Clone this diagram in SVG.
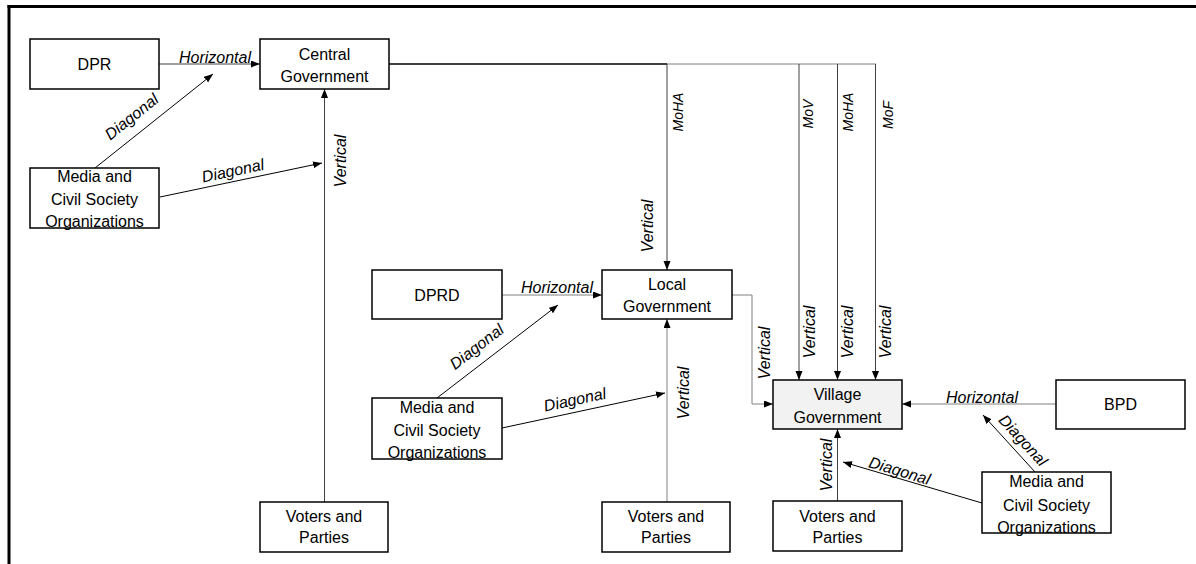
<svg xmlns="http://www.w3.org/2000/svg" width="1196" height="564" viewBox="0 0 1196 564">
<style>
.box{fill:#fff;stroke:#000;stroke-width:1.5}
.vil{fill:#f2f2f2;stroke:#000;stroke-width:1.5}
.t{font-family:"Liberation Sans",Arial,sans-serif;font-size:16px;text-anchor:middle;fill:#000}
.lb{font-family:"Liberation Sans",Arial,sans-serif;font-size:16px;font-style:italic;text-anchor:middle;fill:#000}
.mo{font-family:"Liberation Sans",Arial,sans-serif;font-size:14px;font-style:italic;text-anchor:middle;fill:#000}
.c{fill:none;stroke:#404040;stroke-width:1}
.g{fill:none;stroke:#808080;stroke-width:1}
.d{fill:none;stroke:#000;stroke-width:1}
.a{marker-end:url(#ah)}
</style>
<defs>
<marker id="ah" markerUnits="userSpaceOnUse" markerWidth="10" markerHeight="8" refX="9" refY="3.5" orient="auto">
<path d="M0,0 L9,3.5 L0,7 z" fill="#000"/>
</marker>
</defs>
<rect width="1196" height="564" fill="#fff"/>
<g id="frame">
<line x1="7.5" y1="6.5" x2="1196" y2="6.5" stroke="#000" stroke-width="3"/>
<line x1="9" y1="5" x2="9" y2="564" stroke="#000" stroke-width="3"/>
</g>
<g id="connectors">
<path class="c a" d="M159,64 H260"/>
<path class="d a" d="M95,168 L213,74"/>
<path class="d a" d="M160,197 L322,163"/>
<path class="c a" d="M324.5,502 V89"/>
<path d="M389,64 H667" fill="none" stroke="#000" stroke-width="1.5"/>
<path class="g" d="M667,64 H876"/>
<path class="c a" d="M667,64 V270"/>
<path class="c a" d="M799,64 V380"/>
<path class="c a" d="M837.5,64 V380"/>
<path class="c a" d="M875.5,64 V380"/>
<path class="g a" d="M502,295 H602"/>
<path class="d a" d="M437,398 L558,305"/>
<path class="d a" d="M502,428 L665,393"/>
<path class="g a" d="M667,502 V319"/>
<path class="g a" d="M732,295 H752 V404 H773"/>
<path class="g a" d="M1056,404 H902"/>
<path class="d a" d="M1035,472 L983,415"/>
<path class="d a" d="M982,503 L843,462"/>
<path class="c a" d="M837.5,501 V429"/>
<text class="lb" x="215" y="63">Horizontal</text>
<text class="lb" transform="translate(135,121) rotate(-38.5)">Diagonal</text>
<text class="lb" transform="translate(234,176) rotate(-11.9)">Diagonal</text>
<text class="lb" transform="translate(346,161) rotate(-90)">Vertical</text>
<text class="mo" transform="translate(683,112) rotate(-90)">MoHA</text>
<text class="mo" transform="translate(813,114) rotate(-90)">MoV</text>
<text class="mo" transform="translate(853,112) rotate(-90)">MoHA</text>
<text class="mo" transform="translate(893,115) rotate(-90)">MoF</text>
<text class="lb" transform="translate(653,226) rotate(-90)">Vertical</text>
<text class="lb" x="557" y="293">Horizontal</text>
<text class="lb" transform="translate(480,351) rotate(-37.5)">Diagonal</text>
<text class="lb" transform="translate(576,405) rotate(-12.1)">Diagonal</text>
<text class="lb" transform="translate(689,393) rotate(-90)">Vertical</text>
<text class="lb" transform="translate(770,353) rotate(-90)">Vertical</text>
<text class="lb" transform="translate(815,332) rotate(-90)">Vertical</text>
<text class="lb" transform="translate(853,332) rotate(-90)">Vertical</text>
<text class="lb" transform="translate(891,332) rotate(-90)">Vertical</text>
<text class="lb" x="982" y="403">Horizontal</text>
<text class="lb" transform="translate(1019,444) rotate(47.6)">Diagonal</text>
<text class="lb" transform="translate(898,476) rotate(16.4)">Diagonal</text>
<text class="lb" transform="translate(832,465) rotate(-90)">Vertical</text>
</g>
<g id="dpr">
<rect class="box" x="30" y="39" width="129" height="50"/>
<text class="t" x="94.5" y="70">DPR</text>
</g>
<g id="central">
<rect class="box" x="260" y="39" width="129" height="50"/>
<text class="t" x="324.5" y="60">Central</text>
<text class="t" x="324.5" y="82">Government</text>
</g>
<g id="media1">
<rect class="box" x="30" y="168" width="129" height="60"/>
<text class="t" x="94.5" y="182">Media and</text>
<text class="t" x="94.5" y="205">Civil Society</text>
<text class="t" x="94.5" y="227">Organizations</text>
</g>
<g id="voters1">
<rect class="box" x="260" y="502" width="128" height="50"/>
<text class="t" x="324" y="522">Voters and</text>
<text class="t" x="324" y="543">Parties</text>
</g>
<g id="dprd">
<rect class="box" x="372" y="270" width="130" height="49"/>
<text class="t" x="437" y="301">DPRD</text>
</g>
<g id="local">
<rect class="box" x="602" y="270" width="130" height="49"/>
<text class="t" x="667" y="290">Local</text>
<text class="t" x="667" y="312">Government</text>
</g>
<g id="media2">
<rect class="box" x="372" y="398" width="130" height="61"/>
<text class="t" x="437" y="413">Media and</text>
<text class="t" x="437" y="436">Civil Society</text>
<text class="t" x="437" y="458">Organizations</text>
</g>
<g id="voters2">
<rect class="box" x="602" y="502" width="128" height="50"/>
<text class="t" x="666" y="522">Voters and</text>
<text class="t" x="666" y="543">Parties</text>
</g>
<g id="village">
<rect class="vil" x="773" y="380" width="129" height="49"/>
<text class="t" x="837.5" y="400">Village</text>
<text class="t" x="837.5" y="423">Government</text>
</g>
<g id="bpd">
<rect class="box" x="1056" y="380" width="129" height="49"/>
<text class="t" x="1120.5" y="410">BPD</text>
</g>
<g id="voters3">
<rect class="box" x="773" y="501" width="129" height="50"/>
<text class="t" x="837.5" y="522">Voters and</text>
<text class="t" x="837.5" y="543">Parties</text>
</g>
<g id="media3">
<rect class="box" x="982" y="472" width="129" height="61"/>
<text class="t" x="1046.5" y="487">Media and</text>
<text class="t" x="1046.5" y="511">Civil Society</text>
<text class="t" x="1046.5" y="533">Organizations</text>
</g>
</svg>
